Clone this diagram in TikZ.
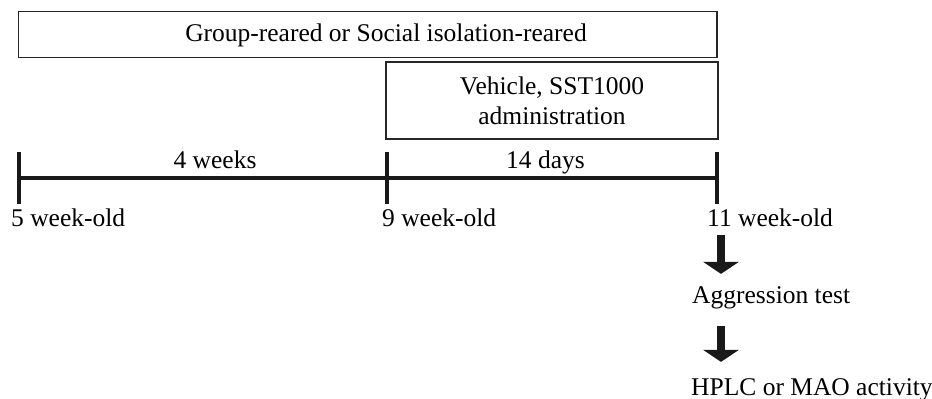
\documentclass[tikz,border=0pt]{standalone}
\usepackage{fontspec}
\setmainfont{Liberation Serif}
\usetikzlibrary{arrows.meta}
\begin{document}
\begin{tikzpicture}[x=1pt,y=-1pt, every node/.style={font=\fontsize{25.5}{30}\selectfont}]
%style for period box
\tikzstyle{period} = [rectangle, draw=black!85, line width=1.5pt, inner sep=0pt, align=center]

%style for age label
\tikzstyle{age} = [anchor=base west, inner sep=0pt]

%style for time axis
\tikzstyle{axis} = [line width=4pt, draw=black!90]

%style for step arrow
\tikzstyle{stepArrow} = [line width=8pt, draw=black!90, -{Triangle[width=35pt,length=12pt]}]

\useasboundingbox (0,0) rectangle (932,399);

%place nodes
\node[period, minimum width=698.5pt, minimum height=46pt] (reared) at (367.75,34.5) {};
\node[anchor=base, inner sep=0pt] (rearedText) at (386,41.7) {Group-reared or Social isolation-reared};

\node[period, minimum width=332pt, minimum height=77pt] (vehicle) at (552,100.5) {Vehicle, SST1000\\administration};

\coordinate (week5) at (18.5,178);
\coordinate (week9) at (387,178);
\coordinate (week11) at (717,178);

\node[anchor=base, inner sep=0pt] (fourWeeks) at (215,168) {4 weeks};
\node[anchor=base, inner sep=0pt] (fourteenDays) at (545.5,168) {14 days};

\node[age] (age5) at (11,226) {5 week-old};
\node[age] (age9) at (382,226) {9 week-old};
\node[age] (age11) at (707,226) {11 week-old};

\node[age] (aggression) at (692,303) {Aggression test};
\node[age] (hplc) at (691,395) {HPLC or MAO activity};

\draw[axis] (week5) -- (week11);
\foreach \t in {week5,week9,week11}
  \draw[axis] ([yshift=26pt]\t) -- ([yshift=-26pt]\t);

\draw[stepArrow] ([xshift=14pt,yshift=-9pt]age11.south west) -- ([xshift=29pt,yshift=12pt]aggression.north west);
\draw[stepArrow] ([xshift=29pt,yshift=-17.5pt]aggression.south west) -- ([xshift=30pt,yshift=16pt]hplc.north west);
\end{tikzpicture}
\end{document}
